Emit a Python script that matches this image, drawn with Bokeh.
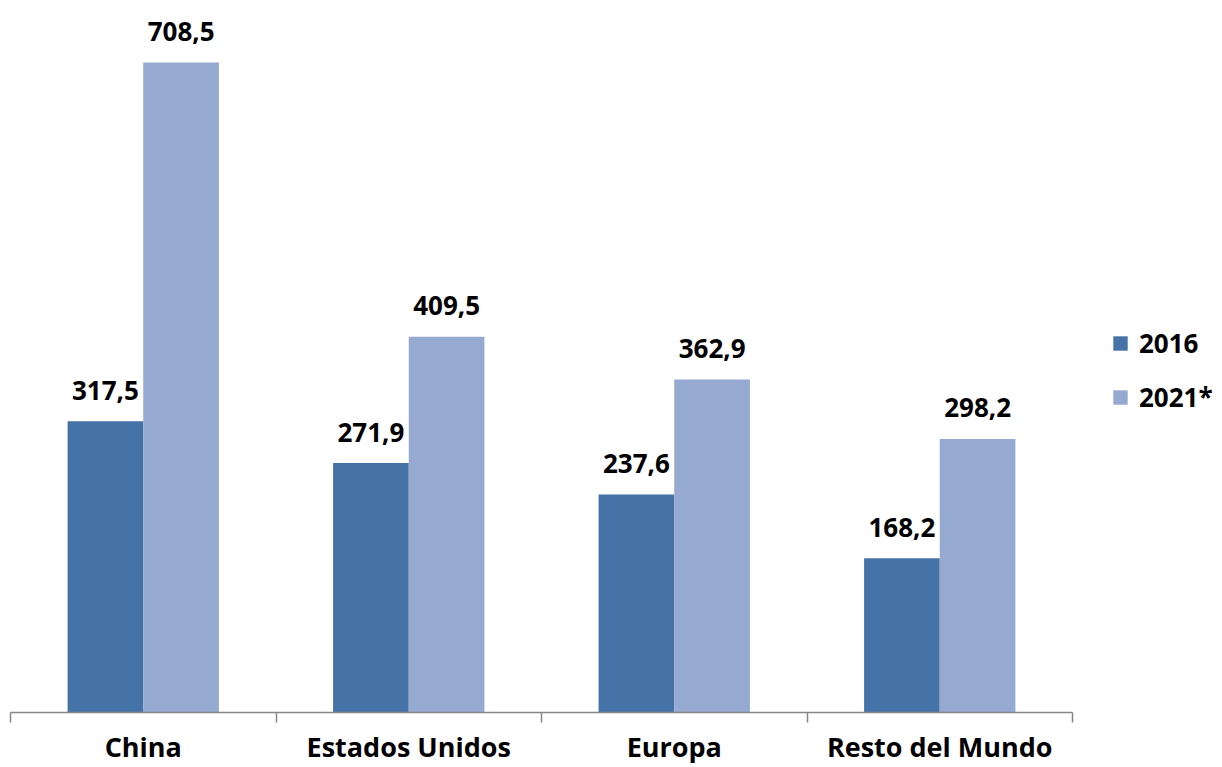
from bokeh.plotting import figure
from bokeh.models import ColumnDataSource, FixedTicker, Legend, LegendItem
from bokeh.transform import dodge
from bokeh.core.properties import value
from bokeh.embed import file_html
from bokeh.resources import INLINE

categories = ["China", "Estados Unidos", "Europa", "Resto del Mundo"]
series_names = ["2016", "2021*"]
values_2016 = [317.5, 271.9, 237.6, 168.2]
values_2021 = [708.5, 409.5, 362.9, 298.2]
labels_2016 = ["317,5", "271,9", "237,6", "168,2"]
labels_2021 = ["708,5", "409,5", "362,9", "298,2"]

colors = ["#4673A7", "#95A9D1"]
FONT = "Open Sans"

xc = [i + 0.5 for i in range(len(categories))]
src = ColumnDataSource(dict(x=xc, v1=values_2016, v2=values_2021,
                            l1=labels_2016, l2=labels_2021))

W, H = 1222, 767
px_per_unit = 1062 / 4.0
xs = -10 / px_per_unit
xe = xs + W / px_per_unit
p = figure(width=W, height=H, output_backend="svg", toolbar_location=None,
           x_range=(xs, xe), y_range=(0, 776.1),
           min_border_left=0, min_border_right=0, min_border_top=0,
           min_border_bottom=55, outline_line_color=None)
p.yaxis.visible = False
p.grid.visible = False

bw = 0.285
r1 = p.vbar(x=dodge("x", -bw / 2), top="v1", width=bw, source=src,
            fill_color=colors[0], line_color=None)
r2 = p.vbar(x=dodge("x", bw / 2), top="v2", width=bw, source=src,
            fill_color=colors[1], line_color=None)

common = dict(text_font=value(FONT), text_font_style="bold", text_font_size="26px",
              text_color="black", text_align="center", text_baseline="alphabetic",
              y_offset=-31)
p.text(x=dodge("x", -bw / 2), y="v1", text="l1", source=src, **common)
p.text(x=dodge("x", bw / 2), y="v2", text="l2", source=src, **common)

ax = p.xaxis[0]
ax.ticker = FixedTicker(ticks=xc, minor_ticks=[0, 1, 2, 3, 4])
ax.major_label_overrides = {x: c for x, c in zip(xc, categories)}
ax.bounds = (0, 4)
ax.axis_line_color = "#868686"
ax.axis_line_width = 1.5
ax.major_tick_out = 0
ax.major_tick_in = 0
ax.minor_tick_out = 10
ax.minor_tick_in = 0
ax.minor_tick_line_color = "#868686"
ax.minor_tick_line_width = 1.5
ax.major_label_text_font = FONT
ax.major_label_text_font_style = "bold"
ax.major_label_text_font_size = "27px"
ax.major_label_text_color = "black"
ax.major_label_standoff = 5

legend = Legend(items=[LegendItem(label=series_names[0], renderers=[r1]),
                       LegendItem(label=series_names[1], renderers=[r2])],
                location=(1111, 297), orientation="vertical",
                glyph_width=18, glyph_height=18, label_standoff=10,
                label_text_font=FONT, label_text_font_style="bold",
                label_text_font_size="26px", label_text_color="black",
                spacing=18, padding=0, margin=0, border_line_color=None,
                background_fill_alpha=0)
p.add_layout(legend)

open("out.html", "w").write(file_html(p, INLINE))
